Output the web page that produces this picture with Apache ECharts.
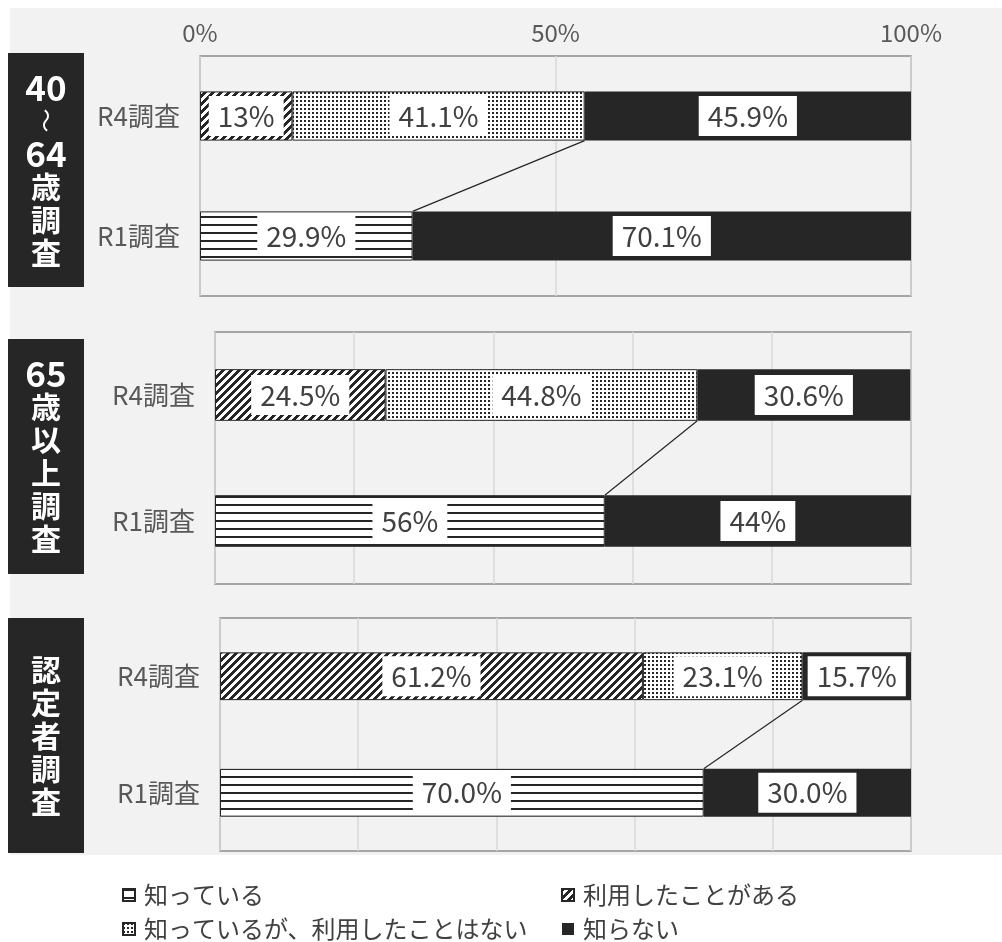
<!DOCTYPE html>
<html>
<head>
<meta charset="utf-8">
<script src="https://cdn.jsdelivr.net/npm/echarts@6/dist/echarts.min.js"></script>
<style>
  html, body { margin: 0; padding: 0; background: #fff; }
  #wrap { position: relative; width: 1002px; height: 942px; }
  #panelBg { position: absolute; left: 10px; top: 8px; width: 992px; height: 847px; background: #f2f2f2; }
  #chart { position: absolute; left: 0; top: 0; width: 1002px; height: 942px; }
</style>
</head>
<body>
<div id="wrap">
  <div id="panelBg"></div>
  <div id="chart"></div>
</div>
<script>
// Survey rows inside every panel
const categories = ['R4調査', 'R1調査'];
// Answer categories, in stacking order
const seriesNames = ['知っている', '利用したことがある', '知っているが、利用したことはない', '知らない'];
// Vertical titles of the three panels (one entry per printed line)
const panelTitles = [
  ['40', '～', '64', '歳', '調', '査'],
  ['65', '歳', '以', '上', '調', '査'],
  ['認', '定', '者', '調', '査']
];
// R4 survey shares (%) per panel
const r4Used = [13, 24.5, 61.2];
const r4KnownNotUsed = [41.1, 44.8, 23.1];
const r4Unknown = [45.9, 30.6, 15.7];
// R1 survey shares (%) per panel
const r1Known = [29.9, 56, 70.0];
const r1Unknown = [70.1, 44, 30.0];
// decimals printed on the labels of each panel (null = as is)
const labelDigits = [null, null, 1];

const FONT = '"Noto Sans CJK JP", "Noto Sans", sans-serif';
const INK = '#262626';
const BAR_RATIO = 0.41;

// plot rectangles of the three panels
const layout = [
  { left: 200, top: 56, height: 240, interval: 50, labels: true },
  { left: 215, top: 332, height: 252, interval: 20, labels: false },
  { left: 220, top: 618, height: 233, interval: 20, labels: false }
];
const titleBoxes = [
  { top: 53, height: 234 },
  { top: 339, height: 235 },
  { top: 618, height: 235 }
];

function makePattern(size, draw) {
  const c = document.createElement('canvas');
  c.width = size; c.height = size;
  const ctx = c.getContext('2d');
  ctx.fillStyle = '#fff';
  ctx.fillRect(0, 0, size, size);
  ctx.fillStyle = INK;
  draw(ctx);
  return { image: c, repeat: 'repeat' };
}
const horizontalLines = makePattern(8, ctx => ctx.fillRect(0, 0, 8, 2));
const diagonalHatch = makePattern(8, ctx => {
  for (let y = 0; y < 8; y++) {
    for (let k = 0; k < 4; k++) ctx.fillRect((7 - y + k) % 8, y, 1, 1);
  }
});
const dots = makePattern(4, ctx => ctx.fillRect(0, 0, 2, 2));

const fills = [horizontalLines, diagonalHatch, dots, INK];

function fmt(v, digits) {
  return digits == null ? String(v) : v.toFixed(digits);
}

const grids = [], xAxes = [], yAxes = [], series = [];
layout.forEach((g, p) => {
  grids.push({
    left: g.left, right: 91, top: g.top, height: g.height,
    show: true, borderColor: '#8c8c8c', borderWidth: 1.5, backgroundColor: 'transparent'
  });
  xAxes.push({
    gridIndex: p, type: 'value', min: 0, max: 100, interval: g.interval,
    position: 'top',
    axisLine: { show: false }, axisTick: { show: false },
    axisLabel: {
      show: g.labels, formatter: '{value}%', color: '#595959',
      fontSize: 24, fontFamily: FONT, margin: 11
    },
    splitLine: { show: true, lineStyle: { color: '#d9d9d9', width: 1.5 } }
  });
  yAxes.push({
    gridIndex: p, type: 'category', data: categories, inverse: true,
    axisLine: { show: false }, axisTick: { show: false },
    axisLabel: { color: '#595959', fontSize: 26, fontFamily: FONT, margin: 20 }
  });

  const rows = [
    ['-', r1Known[p]],
    [r4Used[p], '-'],
    [r4KnownNotUsed[p], '-'],
    [r4Unknown[p], r1Unknown[p]]
  ];
  rows.forEach((data, s) => {
    series.push({
      name: seriesNames[s], type: 'bar', stack: 'panel' + p,
      xAxisIndex: p, yAxisIndex: p,
      barWidth: (BAR_RATIO * 100) + '%',
      data: data,
      itemStyle: { color: fills[s], borderColor: INK, borderWidth: s === 3 ? 0 : 1 },
      label: {
        show: true, position: 'inside',
        formatter: prm => fmt(prm.value, labelDigits[p]) + '%',
        backgroundColor: '#fff', color: '#404040',
        fontSize: 28, fontFamily: FONT, padding: [3, 9], lineHeight: 34
      },
      emphasis: { disabled: true }
    });
  });

  // series line joining the R4 and R1 "aware" boundaries
  series.push({
    type: 'custom', xAxisIndex: p, yAxisIndex: p, silent: true, z: 5,
    data: [[r4Used[p] + r4KnownNotUsed[p], r1Known[p]]],
    encode: { x: 0 },
    renderItem: (params, api) => {
      const half = api.size([0, 1])[1] * BAR_RATIO / 2;
      const a = api.coord([api.value(0), 0]);
      const b = api.coord([api.value(1), 1]);
      return {
        type: 'line',
        shape: { x1: a[0], y1: a[1] + half, x2: b[0], y2: b[1] - half },
        style: { stroke: INK, lineWidth: 1.2 }
      };
    }
  });
});

// black title boxes with vertical text on the left
const graphics = [];
titleBoxes.forEach((b, p) => {
  graphics.push({
    type: 'rect', shape: { x: 8, y: b.top, width: 76, height: b.height },
    style: { fill: INK }, silent: true
  });
  const lines = panelTitles[p];
  const pitch = 33;
  const cy = b.top + b.height / 2;
  const start = cy - (lines.length - 1) * pitch / 2;
  lines.forEach((t, i) => {
    const isWave = t === '～';
    const isDigits = /^[0-9]+$/.test(t);
    graphics.push({
      type: 'text', x: 46, y: start + i * pitch,
      rotation: isWave ? -Math.PI / 2 : 0,
      style: {
        text: t, fill: '#fff',
        font: (isDigits ? 'bold 35px ' : isWave ? '24px ' : 'bold 30px ') + FONT,
        textAlign: 'center', textVerticalAlign: 'middle'
      },
      silent: true
    });
  });
});

const legendBase = {
  orient: 'vertical', top: 883, height: 70, padding: 0,
  itemWidth: 12, itemHeight: 12, itemGap: 10,
  icon: 'rect', selectedMode: false,
  textStyle: { fontSize: 24, lineHeight: 24, color: '#404040', fontFamily: FONT, padding: [0, 0, 0, 4] }
};

const chart = echarts.init(document.getElementById('chart'));
chart.setOption({
  animation: false,
  textStyle: { fontFamily: FONT },
  grid: grids,
  xAxis: xAxes,
  yAxis: yAxes,
  series: series,
  graphic: graphics,
  legend: [
    Object.assign({}, legendBase, { left: 122, data: [seriesNames[0], seriesNames[2]] }),
    Object.assign({}, legendBase, { left: 561, data: [seriesNames[1], seriesNames[3]] })
  ]
});
</script>
</body>
</html>
